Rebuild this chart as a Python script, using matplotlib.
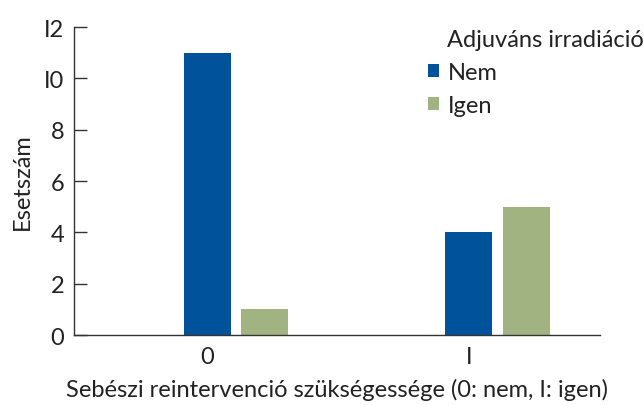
import matplotlib

matplotlib.use("Agg")
import matplotlib.pyplot as plt
import numpy as np

plt.rcParams["font.family"] = ["Lato", "DejaVu Sans"]

# Data
categories = ["0", "1"]
labels_display = ["0", "I"]
nem = [11, 4]
igen = [1, 5]
series_names = ["Nem", "Igen"]
colors = ["#00529b", "#a2b382"]

txt = "#222222"
fs = 17

fig = plt.figure(figsize=(6.44, 4.06), dpi=100)
ax = fig.add_axes([0.115, 0.1724, 0.817, 0.7586])

x = np.arange(len(categories))
width = 0.18
offset = 0.22

ax.bar(x, nem, width, color=colors[0], label=series_names[0])
ax.bar(x + offset, igen, width, color=colors[1], label=series_names[1])

ax.set_xlim(-0.509, 1.503)
ax.set_ylim(0, 12)
ax.set_yticks(range(0, 13, 2))
ax.set_yticklabels(["0", "2", "4", "6", "8", "I0", "I2"])
ax.set_xticks(x)
ax.set_xticklabels(labels_display)

for s in ["top", "right"]:
    ax.spines[s].set_visible(False)
for s in ["left", "bottom"]:
    ax.spines[s].set_color("#333333")
    ax.spines[s].set_linewidth(1.0)

ax.tick_params(axis="y", direction="in", length=9, width=1, color="#333333",
               labelsize=fs, pad=7, labelcolor=txt)
ax.tick_params(axis="x", length=0, labelsize=fs, pad=8, labelcolor=txt)

ax.set_ylabel("Esetszám", fontsize=fs, color=txt, labelpad=8)
ax.set_xlabel("Sebészi reintervenció szükségessége (0: nem, I: igen)",
              fontsize=fs, color=txt, labelpad=8)

# Legend: title aligned with entry text, handles hang to the left
fig.text(0.694, 0.901, "Adjuváns irradiáció", fontsize=fs, color=txt,
         ha="left", va="center")
leg = ax.legend(loc="upper left", bbox_to_anchor=(0.6646, 0.845),
                bbox_transform=fig.transFigure, frameon=False, fontsize=fs,
                handlelength=0.45, handleheight=0.45, handletextpad=0.4,
                labelspacing=0.52, borderpad=0, borderaxespad=0)
for t in leg.get_texts():
    t.set_color(txt)

fig.savefig("out.png", dpi=100)
